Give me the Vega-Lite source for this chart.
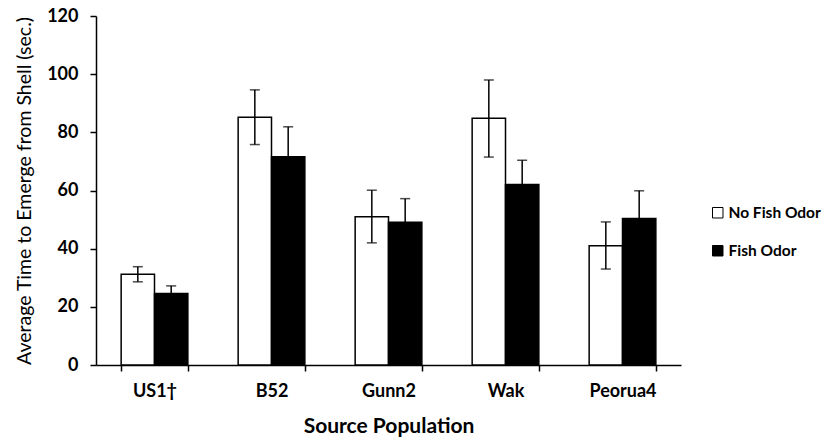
{
  "$schema": "https://vega.github.io/schema/vega-lite/v6.json",
  "width": 585,
  "height": 349,
  "autosize": {"type": "none"},
  "padding": {"left": 96, "top": 16, "right": 144, "bottom": 72},
  "background": "white",
  "config": {"view": {"stroke": null}, "font": "Lato"},
  "data": {
    "values": [
      {"group": "US1†", "condition": "No Fish Odor", "mean": 31.2, "lo": 28.6, "hi": 33.8},
      {"group": "US1†", "condition": "Fish Odor", "mean": 24.6, "lo": 22.0, "hi": 27.2},
      {"group": "B52", "condition": "No Fish Odor", "mean": 85.2, "lo": 75.8, "hi": 94.6},
      {"group": "B52", "condition": "Fish Odor", "mean": 71.6, "lo": 61.3, "hi": 81.9},
      {"group": "Gunn2", "condition": "No Fish Odor", "mean": 51.0, "lo": 42.0, "hi": 60.1},
      {"group": "Gunn2", "condition": "Fish Odor", "mean": 49.1, "lo": 41.0, "hi": 57.2},
      {"group": "Wak", "condition": "No Fish Odor", "mean": 84.8, "lo": 71.5, "hi": 98.0},
      {"group": "Wak", "condition": "Fish Odor", "mean": 62.1, "lo": 53.8, "hi": 70.4},
      {"group": "Peorua4", "condition": "No Fish Odor", "mean": 41.0, "lo": 33.0, "hi": 49.2},
      {"group": "Peorua4", "condition": "Fish Odor", "mean": 50.4, "lo": 40.9, "hi": 59.9}
    ]
  },
  "encoding": {
    "x": {
      "field": "group",
      "type": "nominal",
      "sort": ["US1†", "B52", "Gunn2", "Wak", "Peorua4"],
      "scale": {"paddingInner": 0.43, "paddingOuter": 0.215},
      "axis": {
        "title": "Source Population",
        "labelAngle": 0,
        "labelFontSize": 18,
        "labelFontWeight": "bold",
        "labelColor": "black",
        "labelPadding": 11,
        "tickBand": "extent",
        "tickSize": 6,
        "tickColor": "black",
        "tickWidth": 1.5,
        "domainColor": "black",
        "domainWidth": 1.5,
        "titleFontSize": 21,
        "titleFontWeight": "bold",
        "titleColor": "black",
        "titlePadding": 15
      }
    },
    "xOffset": {
      "field": "condition",
      "type": "nominal",
      "sort": ["No Fish Odor", "Fish Odor"],
      "scale": {"paddingInner": 0, "paddingOuter": 0}
    }
  },
  "layer": [
    {
      "mark": {"type": "bar", "stroke": "black", "strokeWidth": 1.5},
      "encoding": {
        "y": {
          "field": "mean",
          "type": "quantitative",
          "scale": {"domain": [0, 120]},
          "axis": {
            "title": "Average Time to Emerge from Shell (sec.)",
            "values": [0, 20, 40, 60, 80, 100, 120],
            "grid": false,
            "labelFontSize": 18,
            "labelFontWeight": "bold",
            "labelColor": "black",
            "labelPadding": 12,
            "tickSize": 6,
            "tickColor": "black",
            "tickWidth": 1.5,
            "domainColor": "black",
            "domainWidth": 1.5,
            "titleFontSize": 19.5,
            "titleFontWeight": "normal",
            "titleColor": "black",
            "titlePadding": 12
          }
        },
        "fill": {
          "field": "condition",
          "type": "nominal",
          "scale": {"domain": ["No Fish Odor", "Fish Odor"], "range": ["white", "black"]},
          "legend": {
            "title": null,
            "orient": "none",
            "legendX": 614,
            "legendY": 189,
            "symbolType": "square",
            "symbolSize": 110,
            "symbolStrokeColor": "black",
            "symbolStrokeWidth": 1,
            "labelFontSize": 15.5,
            "labelFontWeight": "bold",
            "labelColor": "black",
            "labelOffset": 3,
            "rowPadding": 21
          }
        }
      }
    },
    {
      "mark": {"type": "rule", "color": "black", "strokeWidth": 1.5},
      "encoding": {
        "y": {"field": "lo", "type": "quantitative"},
        "y2": {"field": "hi"}
      }
    },
    {
      "mark": {"type": "tick", "color": "black", "thickness": 1.5, "size": 10},
      "encoding": {"y": {"field": "hi", "type": "quantitative"}}
    },
    {
      "mark": {"type": "tick", "color": "black", "thickness": 1.5, "size": 10},
      "encoding": {"y": {"field": "lo", "type": "quantitative"}}
    }
  ]
}
